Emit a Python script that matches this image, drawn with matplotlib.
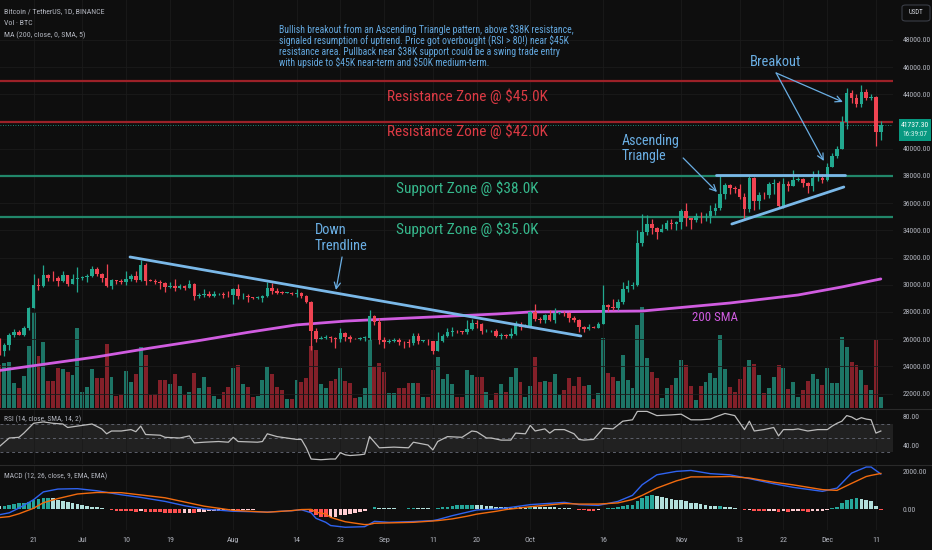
import numpy as np
import pandas as pd
import matplotlib
matplotlib.use("Agg")
import matplotlib.pyplot as plt
from matplotlib import font_manager as fm
from matplotlib.patches import Rectangle, FancyBboxPatch
from matplotlib.lines import Line2D

# ---------------------------------------------------------------- data
start_date = "2023-06-14"
first_open = 25920

closes = [
    25120, 25580, 26330, 26510, 26340, 26840, 28310, 30000, 29890, 30690, 30530, 30470, 30270, 30690, 30080, 30450, 30470,
    30590, 30620, 31160, 30770, 30510, 29900, 30350, 30290, 30170, 30410, 30620, 30380, 31450, 30310, 30290, 30230,
    30140, 29860, 29910, 29800, 29900, 29790, 30080, 29170, 29230, 29350, 29210, 29310, 29350, 29280, 29230,
    29700, 29170, 29180, 29080, 29040, 29040, 29180, 29770, 29560, 29430, 29400, 29420, 29300, 29430, 29170, 28700,
    26620, 26050, 26100, 26190, 26120, 26040, 26430, 26160, 26050, 26000, 26090, 26100, 27720, 27300, 25930,
    25800, 25870, 25970, 25810, 25780, 25750, 26240, 25900, 25900, 25840, 25160, 25840, 26220, 26530, 26600,
    26570, 26530, 26760, 27210, 27130, 26570, 26580, 26580, 26250, 26300, 26220, 26350, 27030, 26900, 26960,
    27990, 27500, 27430, 27780, 27410, 27930, 27950, 27920, 27590, 27390, 26870, 26760, 26860, 26850, 27150, 28500,
    28400, 28320, 28710, 29670, 29910, 29990, 33070, 33900, 34500, 34150, 33890, 34090, 34530, 34480, 34640,
    35420, 34940, 34730, 35080, 35030, 35040, 35420, 35620, 36700, 37320, 37130, 37060, 36480, 35550, 37880,
    36160, 36590, 36580, 37380, 37470, 35810, 37420, 37290, 37720, 37800, 37480, 37250, 37830, 37860, 37720,
    38690, 39480, 39980, 41990, 44080, 43770, 43290, 44170, 43720, 43790, 41240, 41737.3,
]
highs = [
    26080, 25750, 26480, 26780, 26700, 26990, 28400, 30800, 30500, 31430, 30800, 31050, 30660, 31000, 30710, 30820, 31280,
    30660, 30790, 31380, 31330, 30880, 31500, 30450, 30380, 30440, 31050, 30800, 30980, 31800, 31630, 30390, 30440,
    30340, 30240, 30180, 30410, 30050, 29990, 30350, 30100, 29360, 29680, 29570, 29530, 29420, 29450, 29520,
    29740, 30050, 29410, 29310, 29110, 29170, 29240, 30240, 30130, 29730, 29540, 29470, 29450, 29690, 29480, 29250,
    28780, 26820, 26270, 26290, 26260, 26130, 26810, 26560, 26310, 26080, 26180, 26240, 28140, 27760, 27580,
    26130, 25980, 26120, 26080, 25860, 26000, 26440, 26430, 25930, 25980, 25880, 26550, 26400, 26810, 26890,
    26670, 26620, 27410, 27490, 27380, 27160, 26740, 26640, 26740, 26430, 26390, 26820, 27310, 27230, 27090,
    28070, 28580, 27660, 27830, 28120, 28290, 28000, 28100, 27990, 27730, 27480, 26940, 27100, 26990, 27290, 30000,
    28610, 28980, 28930, 30200, 30340, 30200, 34000, 35200, 35130, 34820, 34240, 34480, 34770, 34850, 34720,
    35580, 35980, 34940, 35280, 35380, 35280, 35890, 35980, 37970, 37520, 37410, 37230, 37420, 36760, 37980,
    37930, 36850, 36850, 37560, 37760, 37650, 37880, 37660, 38430, 37890, 37840, 37590, 38400, 38450, 38170,
    38970, 39700, 40240, 42420, 44490, 44300, 44050, 44700, 44370, 44040, 43850, 42050,
]
lows = [
    24820, 24760, 25170, 26160, 26280, 26250, 26660, 28260, 29580, 29810, 30250, 30300, 29920, 30230, 29900, 30040, 29500,
    30320, 30200, 30580, 30640, 30200, 29850, 29700, 30040, 30080, 29950, 30280, 30200, 30250, 29950, 30260, 30080,
    29660, 29500, 29750, 29570, 29720, 29630, 29740, 28860, 29030, 29110, 29080, 29120, 29260, 29030, 29110,
    28590, 28920, 28960, 28750, 28960, 28980, 28700, 29130, 29350, 29350, 29330, 29360, 29260, 29070, 29060, 28650,
    25170, 25800, 25980, 26000, 25810, 25350, 25800, 25860, 25770, 25980, 25960, 25880, 25920, 27020, 25660,
    25330, 25720, 25810, 25600, 25380, 25400, 25600, 25650, 25800, 25580, 24900, 25130, 25760, 26130, 26230,
    26470, 26390, 26390, 26670, 26810, 26360, 26500, 26510, 26130, 25990, 26090, 26110, 26340, 26670, 26890,
    26950, 27330, 27160, 27220, 27340, 27180, 27850, 27700, 27260, 27300, 26560, 26540, 26700, 26810, 26800, 27110,
    28100, 28130, 28180, 28610, 29470, 29660, 29900, 32880, 33690, 33750, 33390, 33860, 34050, 34070, 34060,
    34100, 34300, 34100, 34580, 34530, 34720, 34520, 35110, 35530, 36330, 36700, 36740, 36340, 34800, 35360,
    35500, 35600, 36290, 36390, 36680, 35630, 35670, 36880, 37250, 37620, 37160, 36720, 36880, 37600, 37500,
    37620, 38640, 39290, 39970, 41420, 43330, 43100, 43080, 43580, 43570, 40220, 40680,
]
# volume, thousand BTC
volumes = [
    43, 45, 46, 25, 20, 32, 62, 96, 52, 66, 27, 27, 40, 39, 36, 33, 80,
    16, 21, 39, 30, 30, 64, 31, 12, 13, 37, 26, 34, 61, 53, 13, 14,
    28, 28, 24, 34, 22, 13, 16, 35, 20, 31, 21, 12, 9, 16, 21,
    40, 43, 24, 21, 11, 12, 28, 41, 34, 21, 18, 9, 9, 28, 26, 30,
    62, 58, 24, 20, 27, 29, 40, 27, 25, 10, 11, 20, 68, 41, 45,
    36, 15, 15, 20, 20, 25, 25, 25, 11, 11, 38, 51, 29, 34, 24,
    11, 11, 38, 33, 31, 31, 16, 8, 15, 24, 16, 31, 40, 26, 11,
    22, 51, 26, 27, 26, 34, 13, 18, 30, 22, 31, 22, 23, 9, 15, 70,
    35, 31, 27, 53, 28, 20, 83, 101, 50, 36, 30, 10, 20, 23, 30,
    48, 43, 22, 8, 22, 26, 35, 30, 73, 39, 21, 16, 29, 41, 48,
    44, 33, 15, 20, 31, 43, 40, 19, 26, 11, 18, 27, 34, 29, 23,
    40, 25, 25, 71, 61, 46, 43, 38, 23, 18, 68, 11,
]

sma_dates = ["2023-06-14", "2023-06-24", "2023-07-04", "2023-07-15", "2023-07-25", "2023-08-04",
             "2023-08-14", "2023-08-24", "2023-09-04", "2023-09-24", "2023-10-01", "2023-10-24",
             "2023-11-11", "2023-11-25", "2023-12-04", "2023-12-12"]
sma_values = [23700, 24200, 24700, 25350, 25900, 26500, 27050, 27330, 27520, 27850, 28000, 28070,
              28660, 29250, 29840, 30430]

rsi_days = [0, 2, 4, 5, 7, 9, 11, 13, 14, 16, 19, 21, 22, 23, 25, 27, 28, 29, 30, 33, 34, 37, 39, 40, 42,
            45, 47, 48, 49, 53, 54, 55, 57, 59, 61, 62, 63, 64, 66, 68, 69, 70, 71, 72, 74, 75, 76, 77, 78,
            81, 84, 85, 88, 89, 90, 92, 95, 97, 98, 100, 101, 103, 105, 106, 108, 109, 110, 112, 113, 114,
            116, 118, 119, 120, 122, 124, 126, 128, 130, 131, 133, 135, 138, 140, 142, 144, 146, 147, 149,
            151, 153, 154, 155, 157, 159, 160, 161, 163, 164, 166, 168, 170, 171, 172, 173, 174, 175, 176,
            177, 178, 179, 180, 181]
rsi_values = [38, 50, 51, 57, 71, 73, 71, 70, 65, 67, 70, 63, 56, 60, 60, 62, 59, 67, 55, 54, 51, 50, 53, 43, 44,
              45, 44, 51, 45, 44, 45, 56, 52, 50, 48, 48, 36, 20, 19, 20, 20, 29, 26, 25, 26, 27, 52, 44, 36,
              37, 36, 44, 40, 33, 45, 52, 51, 60, 59, 50, 50, 47, 47, 57, 56, 68, 60, 63, 57, 62,
              62, 56, 48, 47, 48, 64, 63, 74, 76, 88, 88, 82, 83, 84, 76, 76, 77, 80, 85,
              82, 62, 74, 60, 62, 65, 53, 62, 62, 63, 60, 62, 62, 67, 71, 74, 82, 80, 76,
              79, 77, 76, 57, 60]

macd_days = [0, 2, 4, 7, 9, 12, 16, 20, 25, 29, 34, 38, 42, 48, 55, 60, 62, 64, 65, 67, 68, 71, 75, 76, 77,
             80, 85, 89, 90, 93, 96, 98, 102, 104, 109, 116, 119, 123, 127, 130, 132, 135, 139, 142, 146,
             150, 154, 159, 163, 169, 172, 175, 178, 179, 181]
macd_values = [-300, -200, 50, 490, 900, 1050, 1070, 960, 750, 610, 400, 175, 0, -120, -160, -90, -40, -200,
               -490, -700, -870, -960, -930, -790, -650, -700, -660, -610, -560, -350, -170, -50, 0, 50, 230,
               350, 230, 190, 400, 720, 1280, 1800, 1980, 2030, 1860, 1800, 1600, 1330, 1140, 930, 1100,
               1890, 2210, 2210, 1840]
signal_values = [-450, -400, -250, 40, 330, 550, 790, 870, 860, 740, 590, 370, 150, -70, -170, -85, -30, -20,
                 -170, -260, -440, -670, -820, -810, -750, -730, -700, -630, -610, -520, -380, -270, -120, -30,
                 120, 290, 260, 260, 320, 500, 720, 1100, 1480, 1690, 1690, 1710, 1630, 1410, 1270, 1020, 980,
                 1350, 1710, 1770, 1870]
hist_values = [
    150, 170, 200, 250, 300, 330, 380, 450, 520, 570,
    580, 560, 500, 430, 370, 320, 280, 230, 180, 130, 90, 50,
    -20, -50, -80, -110, -120, -130, -140, -130, -150, -160, -170, -180,
    -190, -195, -200, -200, -195, -185, -190, -170, -150, -130, -110, -95,
    -85, -75, -50, -50, -40, -35, -30, -25, -20, 10, 15, 10,
    5, 0, -5, 0, -10, -60,
    -180, -320, -400, -440, -430, -400, -340, -290, -240, -200, -150, -110,
    20, 100, 60, 40, 30, 30, 25, 20, 30, 40, 40, 35, 30, 20,
    50, 90, 130, 170, 190, 200, 210, 230, 220, 200, 170, 150, 120, 100, 80, 60,
    80, 80, 70, 110, 100, 100, 100, 80, 80, 70, 60, 40, 20, -30, -60, -80, -90, -70,
    20, 40, 50, 80, 150, 190, 220, 420, 560, 660, 720, 700, 640, 600, 550, 500, 450, 420,
    340, 290, 240, 200, 170, 140, 150, 120, 90, 60, 20, -60, -30, -80, -100, -110, -100, -80,
    -160, -130, -140, -130, -120, -130, -140, -120, -100, -90, -50,
    30, 120, 300, 450, 540, 560, 540, 500, 440, 180, -30,
]

resistance_levels = [45000, 42000]
support_levels = [38000, 35000]
last_price = 41737.30
countdown = "16:39:07"

tick_dates = ["2023-06-21", "2023-07-01", "2023-07-10", "2023-07-19", "2023-08-01", "2023-08-14",
              "2023-08-23", "2023-09-01", "2023-09-11", "2023-09-20", "2023-10-01", "2023-10-16",
              "2023-11-01", "2023-11-13", "2023-11-22", "2023-12-01", "2023-12-11"]
tick_labels = ["21", "Jul", "10", "19", "Aug", "14", "23", "Sep", "11", "20", "Oct", "16",
               "Nov", "13", "22", "Dec", "11"]
price_ticks = list(range(22000, 50000, 2000))

# chart drawings (day offset from start, price)
down_trendline = [(26.8, 32044), (119.4, 26235)]
triangle_top = [(147.1, 38050), (173.6, 38050)]
triangle_bottom = [(150.4, 34470), (173.4, 37190)]
arrow_down = [(70.35, 32044), (69.1, 29618)]
arrow_triangle = [(140.4, 39324), (147.35, 36824)]
arrow_breakout_1 = [(159.5, 45574), (173.2, 43441)]
arrow_breakout_2 = [(159.5, 45574), (169.3, 39103)]

note_lines = [
    "Bullish breakout from an Ascending Triangle pattern, above \\$38K resistance,",
    "signaled resumption of uptrend. Price got overbought (RSI > 80!) near \\$45K",
    "resistance area. Pullback near \\$38K support could be a swing trade entry",
    "with upside to \\$45K near-term and \\$50K medium-term.",
]

# ---------------------------------------------------------------- style
BG = "#0e0e0e"
GRID = "#1b1b1b"
SEP = "#2a2a2a"
TXT = "#b2b5be"
UP = "#22a88f"
DN = "#ef4452"
VUP = "#1d7566"
VDN = "#832029"
RED_LINE = "#9c2128"
GREEN_LINE = "#21876a"
RED_TXT = "#dc3a44"
GREEN_TXT = "#36b88c"
ANN = "#6aaee3"
TREND = "#7ab8e8"
SMA_C = "#d05ce0"
RSI_C = "#bdbdbd"
BAND = "#212121"
DASH = "#5d606b"
BLUE = "#2f63f0"
ORANGE = "#f26b0f"

names = {f.name for f in fm.fontManager.ttflist}
FONT = "DejaVu Sans"
for cand in ["Liberation Sans Narrow", "Roboto Condensed", "Open Sans Condensed", "Roboto"]:
    if cand in names:
        FONT = cand
        break
plt.rcParams["font.family"] = [FONT, "DejaVu Sans"]

W, H = 932, 550
fig = plt.figure(figsize=(W / 100, H / 100), dpi=100, facecolor=BG)


def rect(x0, y0, x1, y1):
    return [x0 / W, 1 - y1 / H, (x1 - x0) / W, (y1 - y0) / H]


def fpos(x, y):
    return x / W, 1 - y / H


# measure tick font size (target: "48000.00" ~ 28 px wide)
_t = fig.text(0, 0, "48000.00", fontsize=10)
fig.canvas.draw()
_w = _t.get_window_extent(fig.canvas.get_renderer()).width
_t.remove()
TICK_FS = 10 * 28.0 / _w

t0 = pd.Timestamp(start_date)
x = np.arange(len(closes))
opens = np.array([first_open] + closes[:-1], dtype=float)
c = np.array(closes, dtype=float)
h = np.array(highs, dtype=float)
l = np.array(lows, dtype=float)
up = c >= opens
ccol = np.where(up, UP, DN)
tick_idx = [(pd.Timestamp(d) - t0).days for d in tick_dates]

# ---------------------------------------------------------------- volume (behind)
axv = fig.add_axes(rect(0, 0, 893, 408))
axv.set_zorder(0)
axv.set_facecolor(BG)
axv.bar(x, volumes, width=0.8, color=np.where(up, VUP, VDN), linewidth=0)
axv.set_ylim(0, 408)
axv.set_yticks([])
axv.tick_params(axis="both", length=0, labelbottom=False, labelleft=False)

# ---------------------------------------------------------------- main price pane
ax = fig.add_axes(rect(0, 0, 893, 408), sharex=axv)
ax.set_zorder(1)
ax.patch.set_visible(False)
ax.set_xlim(0.1, 183.5)
ax.set_ylim(20940, 50940)
ax.set_yticks(price_ticks)
ax.set_xticks(tick_idx)
ax.grid(True, color=GRID, lw=0.6, zorder=0)
ax.set_axisbelow(True)
ax.yaxis.tick_right()
# the 42000 label sits under the live-price tag, as in the original
ax.set_yticklabels(["" if v == 42000 else f"{v:.2f}" for v in price_ticks])
ax.tick_params(axis="y", length=0, pad=7, labelsize=TICK_FS, labelcolor=TXT)
ax.tick_params(axis="x", length=0, labelbottom=False)

for lv in resistance_levels:
    ax.axhline(lv, color=RED_LINE, lw=1.6, zorder=1)
for lv in support_levels:
    ax.axhline(lv, color=GREEN_LINE, lw=1.6, zorder=1)
ax.axhline(last_price, color=UP, lw=0.6, ls=(0, (1, 2)), zorder=1)

sx = [(pd.Timestamp(d) - t0).days for d in sma_dates]
ax.plot(sx, sma_values, color=SMA_C, lw=2.0, zorder=2, solid_capstyle="round", solid_joinstyle="round")

ax.vlines(x, l, h, colors=ccol, lw=0.9, zorder=3)
ax.bar(x, np.maximum(np.abs(c - opens), 40), bottom=np.minimum(opens, c), width=0.72,
       color=ccol, linewidth=0, zorder=4)

for seg in (down_trendline, triangle_top, triangle_bottom):
    ax.plot([seg[0][0], seg[1][0]], [seg[0][1], seg[1][1]], color=TREND, lw=2.0,
            zorder=5, solid_capstyle="round")
for seg in (arrow_down, arrow_triangle, arrow_breakout_1, arrow_breakout_2):
    ax.annotate("", xy=seg[1], xytext=seg[0], zorder=6,
                arrowprops=dict(arrowstyle="->", color=ANN, lw=0.9, mutation_scale=11,
                                shrinkA=0, shrinkB=0))

fits = []
zone_texts = [("Resistance Zone @ $45.0K", 43880, RED_TXT), ("Resistance Zone @ $42.0K", 41300, RED_TXT),
              ("Support Zone @ $38.0K", 37120, GREEN_TXT), ("Support Zone @ $35.0K", 34100, GREEN_TXT)]
zt = []
for s, yv, col in zone_texts:
    zt.append(ax.text(96, yv, s, color=col, fontsize=11, ha="center", va="center", zorder=7))
fits.append((zt[0], 160, zt))

t_down = ax.text(64.8, 34030, "Down", color=ANN, fontsize=11, ha="left", va="center", zorder=7)
t_trend = ax.text(64.8, 32850, "Trendline", color=ANN, fontsize=11, ha="left", va="center", zorder=7)
fits.append((t_trend, 53, [t_down, t_trend]))
t_asc = ax.text(127.8, 40596, "Ascending", color=ANN, fontsize=11, ha="left", va="center", zorder=7)
t_tri = ax.text(127.8, 39434, "Triangle", color=ANN, fontsize=11, ha="left", va="center", zorder=7)
fits.append((t_asc, 58, [t_asc, t_tri]))
t_brk = ax.text(159.3, 46404, "Breakout", color=ANN, fontsize=11, ha="center", va="center", zorder=7)
fits.append((t_brk, 51, [t_brk]))
t_sma = ax.text(146.9, 27559, "200 SMA", color=SMA_C, fontsize=11, ha="center", va="center", zorder=7)
fits.append((t_sma, 46, [t_sma]))

for sp in list(ax.spines.values()) + list(axv.spines.values()):
    sp.set_visible(False)

# ---------------------------------------------------------------- RSI pane
axr = fig.add_axes(rect(0, 409, 893, 464), sharex=axv)
axr.set_facecolor(BG)
axr.set_ylim(12.9, 91.4)
axr.axhspan(30, 70, color=BAND, lw=0, zorder=0)
for lv in (70, 50, 30):
    axr.axhline(lv, color=DASH, lw=0.7, ls=(0, (3, 3)), zorder=1)
axr.plot(rsi_days, rsi_values, color=RSI_C, lw=0.9, zorder=3)
axr.yaxis.tick_right()
axr.set_yticks([40, 80])
axr.set_yticklabels(["40.00", "80.00"])
axr.tick_params(axis="y", length=0, pad=7, labelsize=TICK_FS, labelcolor=TXT)
axr.tick_params(axis="x", length=0, labelbottom=False)
axr.grid(True, axis="x", color=GRID, lw=0.6)
axr.set_axisbelow(True)
for sp in axr.spines.values():
    sp.set_visible(False)

# ---------------------------------------------------------------- MACD pane
axm = fig.add_axes(rect(0, 465, 893, 530), sharex=axv)
axm.set_facecolor(BG)
axm.set_ylim(-1105, 2316)
hcols = []
for i, v in enumerate(hist_values):
    prev = hist_values[i - 1] if i > 0 else v
    if v >= 0:
        hcols.append("#26a69a" if v > prev else "#b2dfdb")
    else:
        hcols.append("#ffcdd2" if v > prev else "#ff5252")
axm.bar(x, hist_values, width=0.75, color=hcols, linewidth=0, zorder=2)
axm.plot(macd_days, macd_values, color=BLUE, lw=1.0, zorder=3)
axm.plot(macd_days, signal_values, color=ORANGE, lw=1.0, zorder=3)
axm.yaxis.tick_right()
axm.set_yticks([0, 2000])
axm.set_yticklabels(["0.00", "2000.00"])
axm.tick_params(axis="y", length=0, pad=7, labelsize=TICK_FS, labelcolor=TXT)
axm.set_xticks(tick_idx)
axm.set_xticklabels(tick_labels)
axm.tick_params(axis="x", length=0, pad=5, labelsize=TICK_FS * 1.05, labelcolor=TXT, labelbottom=True)
axm.grid(True, axis="x", color=GRID, lw=0.6)
axm.set_axisbelow(True)
for sp in axm.spines.values():
    sp.set_visible(False)
axm.set_xlim(0.1, 183.5)

# ---------------------------------------------------------------- separators / overlays
for yy in (408.5, 464.5):
    fig.add_artist(Line2D([0, 1], [1 - yy / H] * 2, color=SEP, lw=0.8, transform=fig.transFigure))

lg = [fig.text(*fpos(4, 11), "Bitcoin / TetherUS, 1D, BINANCE", color=TXT, fontsize=7, va="center"),
      fig.text(*fpos(4, 23), "Vol \u00b7 BTC", color=TXT, fontsize=7, va="center"),
      fig.text(*fpos(4, 35), "MA (200, close, 0, SMA, 5)", color=TXT, fontsize=7, va="center")]
fits.append((lg[0], 101, lg))
t_rsi = fig.text(*fpos(4, 419), "RSI (14, close, SMA, 14, 2)", color=TXT, fontsize=7, va="center")
fits.append((t_rsi, 76, [t_rsi]))
t_macd = fig.text(*fpos(4, 476), "MACD (12, 26, close, 9, EMA, EMA)", color=TXT, fontsize=7, va="center")
fits.append((t_macd, 103, [t_macd]))

notes = []
for k, s in enumerate(note_lines):
    notes.append(fig.text(*fpos(279, 29 + 11 * k), s, color="#63a8df", fontsize=8, va="center"))
fits.append((notes[0], 294, notes))

# price label
fig.add_artist(Rectangle(fpos(899, 141), 32 / W, 22 / H, transform=fig.transFigure,
                         facecolor="#089981", edgecolor="none", zorder=5))
fig.text(*fpos(915, 125.3), f"{last_price:.2f}", color="white", fontsize=TICK_FS, ha="center",
         va="center", zorder=6)
fig.text(*fpos(915, 134.5), countdown, color="#d8f3ee", fontsize=TICK_FS * 0.95, ha="center",
         va="center", zorder=6)

# currency box
fig.add_artist(FancyBboxPatch(fpos(902, 21), 28 / W, 16 / H, boxstyle="round,pad=0,rounding_size=0.004",
                              transform=fig.transFigure, facecolor=BG, edgecolor="#3a3d46", lw=0.8, zorder=5))
fig.text(*fpos(916, 12.5), "USDT", color="#d1d4dc", fontsize=TICK_FS * 0.9, ha="center", va="center", zorder=6)

# ---------------------------------------------------------------- fit text widths
fig.canvas.draw()
r = fig.canvas.get_renderer()
for ref, target, group in fits:
    w = ref.get_window_extent(r).width
    fs = ref.get_fontsize() * target / w
    for t in group:
        t.set_fontsize(fs)

fig.savefig("out.png", dpi=100, facecolor=BG)
